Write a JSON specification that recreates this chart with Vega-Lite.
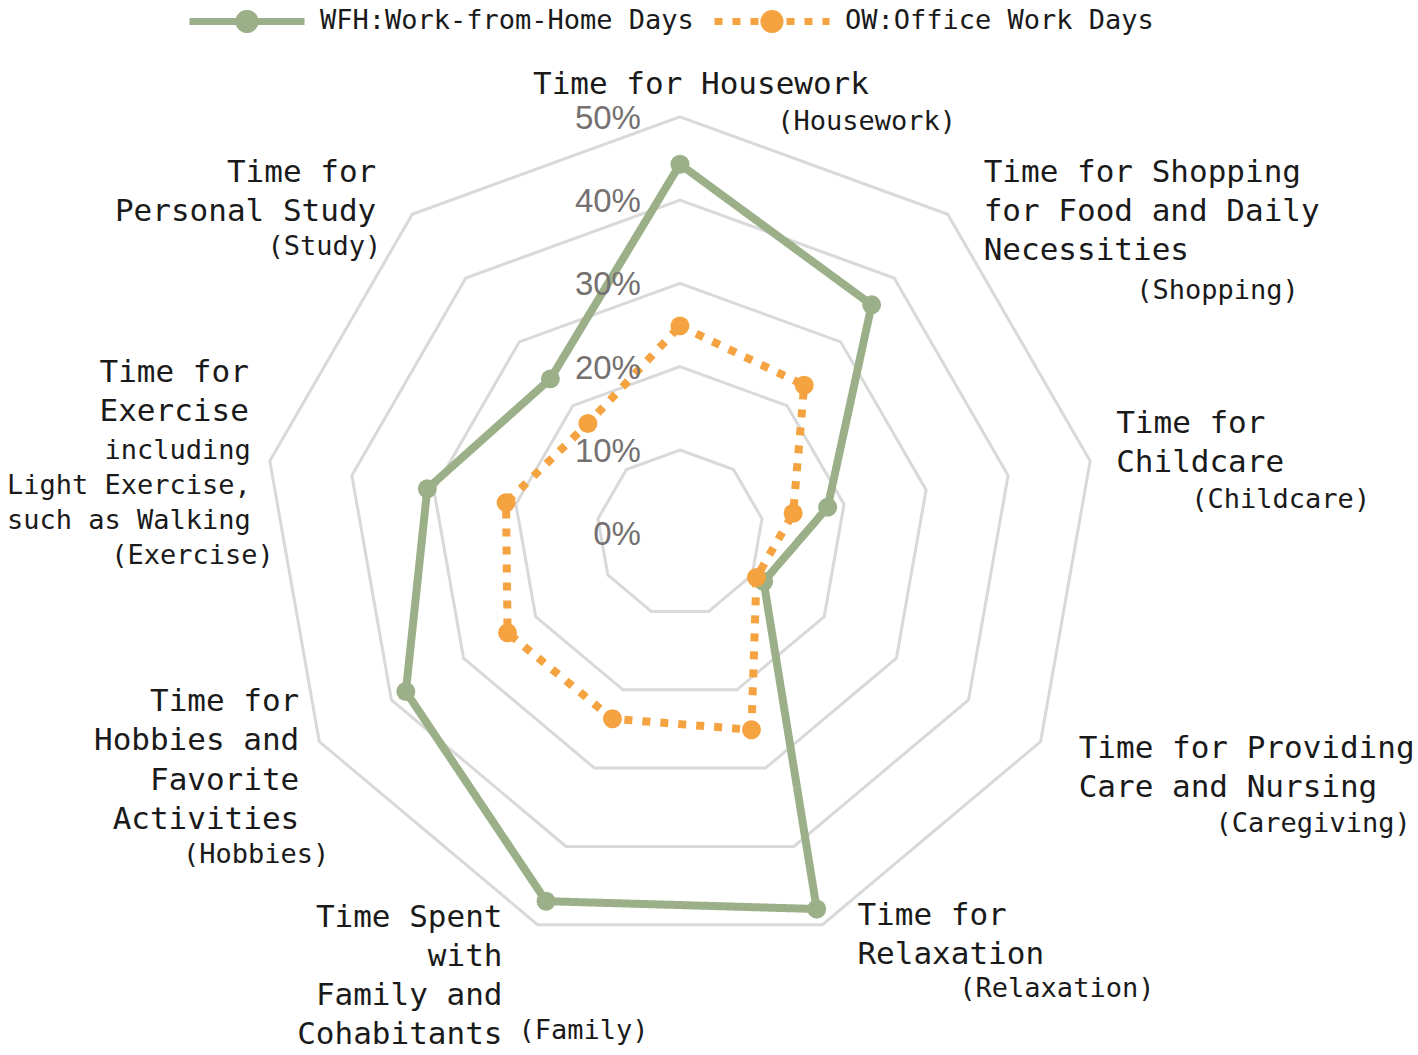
{
  "$schema": "https://vega.github.io/schema/vega-lite/v6.json",
  "width": 1418,
  "height": 1055,
  "autosize": {"type": "none"},
  "padding": 0,
  "background": "white",
  "config": {"view": {"stroke": null}},
  "datasets": {
    "series": [
      {"series": "WFH:Work-from-Home Days", "cat": "Housework", "value": 44.3},
      {"series": "WFH:Work-from-Home Days", "cat": "Shopping", "value": 35.8},
      {"series": "WFH:Work-from-Home Days", "cat": "Childcare", "value": 18.0},
      {"series": "WFH:Work-from-Home Days", "cat": "Caregiving", "value": 11.6},
      {"series": "WFH:Work-from-Home Days", "cat": "Relaxation", "value": 48.0},
      {"series": "WFH:Work-from-Home Days", "cat": "Family", "value": 47.0},
      {"series": "WFH:Work-from-Home Days", "cat": "Hobbies", "value": 38.0},
      {"series": "WFH:Work-from-Home Days", "cat": "Exercise", "value": 30.8},
      {"series": "WFH:Work-from-Home Days", "cat": "Study", "value": 24.2},
      {"series": "OW:Office Work Days", "cat": "Housework", "value": 24.9},
      {"series": "OW:Office Work Days", "cat": "Shopping", "value": 23.2},
      {"series": "OW:Office Work Days", "cat": "Childcare", "value": 13.8},
      {"series": "OW:Office Work Days", "cat": "Caregiving", "value": 10.6},
      {"series": "OW:Office Work Days", "cat": "Relaxation", "value": 25.1},
      {"series": "OW:Office Work Days", "cat": "Family", "value": 23.7},
      {"series": "OW:Office Work Days", "cat": "Hobbies", "value": 23.9},
      {"series": "OW:Office Work Days", "cat": "Exercise", "value": 21.2},
      {"series": "OW:Office Work Days", "cat": "Study", "value": 17.2}
    ],
    "levels": [
      {"level": 0, "label": "0%"},
      {"level": 10, "label": "10%"},
      {"level": 20, "label": "20%"},
      {"level": 30, "label": "30%"},
      {"level": 40, "label": "40%"},
      {"level": 50, "label": "50%"}
    ],
    "labels": [
      {"cat": "Housework", "main": "Time for Housework", "paren": "(Housework)"},
      {"cat": "Shopping", "main": "Time for Shopping\nfor Food and Daily\nNecessities", "paren": "(Shopping)"},
      {"cat": "Childcare", "main": "Time for\nChildcare", "paren": "(Childcare)"},
      {"cat": "Caregiving", "main": "Time for Providing\nCare and Nursing", "paren": "(Caregiving)"},
      {"cat": "Relaxation", "main": "Time for\nRelaxation", "paren": "(Relaxation)"},
      {"cat": "Family", "main": "Time Spent\nwith\nFamily and\nCohabitants", "paren": "(Family)"},
      {"cat": "Hobbies", "main": "Time for\nHobbies and\nFavorite\nActivities", "paren": "(Hobbies)"},
      {"cat": "Exercise", "main": "Time for\nExercise", "sub": "including\nLight Exercise,\nsuch as Walking", "paren": "(Exercise)"},
      {"cat": "Study", "main": "Time for\nPersonal Study", "paren": "(Study)"}
    ]
  },
  "encoding": {
    "x": {"field": "px", "type": "quantitative", "scale": {"domain": [-81.63, 88.6], "nice": false, "zero": false}, "axis": null},
    "y": {"field": "py", "type": "quantitative", "scale": {"domain": [-62.63, 64.02], "nice": false, "zero": false}, "axis": null}
  },
  "layer": [
    {
      "data": {"name": "levels"},
      "transform": [
        {"filter": "datum.level > 0"},
        {"calculate": "[0,1,2,3,4,5,6,7,8]", "as": "k"},
        {"flatten": ["k"]},
        {"calculate": "datum.level * sin(datum.k * 2 * PI / 9)", "as": "px"},
        {"calculate": "datum.level * cos(datum.k * 2 * PI / 9)", "as": "py"}
      ],
      "mark": {"type": "line", "interpolate": "linear-closed", "color": "#d9d9d9", "strokeWidth": 3},
      "encoding": {
        "detail": {"field": "level", "type": "nominal"},
        "order": {"field": "k", "type": "quantitative"}
      }
    },
    {
      "data": {"name": "series"},
      "transform": [
        {"calculate": "indexof(['Housework','Shopping','Childcare','Caregiving','Relaxation','Family','Hobbies','Exercise','Study'], datum.cat)", "as": "idx"},
        {"calculate": "datum.value * sin(datum.idx * 2 * PI / 9)", "as": "px"},
        {"calculate": "datum.value * cos(datum.idx * 2 * PI / 9)", "as": "py"}
      ],
      "layer": [
        {
          "mark": {"type": "line", "interpolate": "linear-closed", "strokeWidth": 8, "strokeCap": "butt", "strokeJoin": "round"},
          "encoding": {
            "color": {
              "field": "series", "type": "nominal",
              "scale": {"domain": ["WFH:Work-from-Home Days", "OW:Office Work Days"], "range": ["#9bb088", "#f4a340"]},
              "legend": {
                "title": null, "orient": "none", "legendX": 232, "legendY": 6, "direction": "horizontal",
                "symbolType": "M -5,0 L 5,0 M 0.7,0 A 0.7,0.7 0 1,1 -0.7,0 A 0.7,0.7 0 1,1 0.7,0 Z M 0.7,0 A 0.7,0.7 0 0,1 0.606,0.35 M 0.606,0.35 A 0.7,0.7 0 0,1 0.35,0.606 M 0.35,0.606 A 0.7,0.7 0 0,1 0,0.7 M 0,0.7 A 0.7,0.7 0 0,1 -0.35,0.606 M -0.35,0.606 A 0.7,0.7 0 0,1 -0.606,0.35 M -0.606,0.35 A 0.7,0.7 0 0,1 -0.7,0 M -0.7,0 A 0.7,0.7 0 0,1 -0.606,-0.35 M -0.606,-0.35 A 0.7,0.7 0 0,1 -0.35,-0.606 M -0.35,-0.606 A 0.7,0.7 0 0,1 0,-0.7 M 0,-0.7 A 0.7,0.7 0 0,1 0.35,-0.606 M 0.35,-0.606 A 0.7,0.7 0 0,1 0.606,-0.35 M 0.606,-0.35 A 0.7,0.7 0 0,1 0.7,0",
                "symbolSize": 529, "symbolStrokeWidth": 7,
                "labelFont": "DejaVu Sans Mono", "labelFontSize": 27, "labelColor": "#1a1a1a",
                "labelOffset": 58, "columnPadding": 6, "padding": 0, "labelLimit": 600,
                "encode": {"symbols": {"update": {"fill": {"scale": "color", "field": "value"}, "opacity": {"value": 1}}}}
              }
            },
            "strokeDash": {
              "field": "series", "type": "nominal",
              "scale": {"domain": ["WFH:Work-from-Home Days", "OW:Office Work Days"], "range": [[1, 0], [8, 10]]},
              "legend": {
                "title": null, "orient": "none", "legendX": 232, "legendY": 6, "direction": "horizontal",
                "symbolType": "M -5,0 L 5,0 M 0.7,0 A 0.7,0.7 0 1,1 -0.7,0 A 0.7,0.7 0 1,1 0.7,0 Z M 0.7,0 A 0.7,0.7 0 0,1 0.606,0.35 M 0.606,0.35 A 0.7,0.7 0 0,1 0.35,0.606 M 0.35,0.606 A 0.7,0.7 0 0,1 0,0.7 M 0,0.7 A 0.7,0.7 0 0,1 -0.35,0.606 M -0.35,0.606 A 0.7,0.7 0 0,1 -0.606,0.35 M -0.606,0.35 A 0.7,0.7 0 0,1 -0.7,0 M -0.7,0 A 0.7,0.7 0 0,1 -0.606,-0.35 M -0.606,-0.35 A 0.7,0.7 0 0,1 -0.35,-0.606 M -0.35,-0.606 A 0.7,0.7 0 0,1 0,-0.7 M 0,-0.7 A 0.7,0.7 0 0,1 0.35,-0.606 M 0.35,-0.606 A 0.7,0.7 0 0,1 0.606,-0.35 M 0.606,-0.35 A 0.7,0.7 0 0,1 0.7,0",
                "symbolSize": 529, "symbolStrokeWidth": 7,
                "labelFont": "DejaVu Sans Mono", "labelFontSize": 27, "labelColor": "#1a1a1a",
                "labelOffset": 58, "columnPadding": 6, "padding": 0, "labelLimit": 600,
                "encode": {"symbols": {"update": {"fill": {"scale": "color", "field": "value"}, "opacity": {"value": 1}}}}
              }
            },
            "order": {"field": "idx", "type": "quantitative"}
          }
        },
        {
          "mark": {"type": "point", "shape": "circle", "filled": true, "size": 360, "opacity": 1},
          "encoding": {
            "color": {"field": "series", "type": "nominal", "legend": null}
          }
        }
      ]
    },
    {
      "data": {"name": "levels"},
      "transform": [
        {"calculate": "0", "as": "px"},
        {"calculate": "datum.level", "as": "py"}
      ],
      "mark": {"type": "text", "align": "right", "baseline": "middle", "dx": -39, "dy": 2, "font": "Liberation Sans", "fontSize": 33, "color": "#767171"},
      "encoding": {"text": {"field": "label", "type": "nominal"}}
    },
    {
      "data": {"name": "labels"},
      "transform": [
        {"calculate": "indexof(['Housework','Shopping','Childcare','Caregiving','Relaxation','Family','Hobbies','Exercise','Study'], datum.cat)", "as": "idx"},
        {"calculate": "50 * sin(datum.idx * 2 * PI / 9)", "as": "px"},
        {"calculate": "50 * cos(datum.idx * 2 * PI / 9)", "as": "py"}
      ],
      "layer": [
        {"transform": [{"filter": "datum.cat === 'Housework'"}], "mark": {"type": "text", "align": "center", "baseline": "alphabetic", "dx": 21, "dy": -23, "font": "DejaVu Sans Mono", "fontSize": 31, "lineHeight": 39, "lineBreak": "\n", "color": "#1a1a1a"}, "encoding": {"text": {"field": "main", "type": "nominal"}}},
        {"transform": [{"filter": "datum.cat === 'Housework'"}], "mark": {"type": "text", "align": "right", "baseline": "alphabetic", "dx": 276, "dy": 13, "font": "DejaVu Sans Mono", "fontSize": 27, "color": "#1a1a1a"}, "encoding": {"text": {"field": "paren", "type": "nominal"}}},

        {"transform": [{"filter": "datum.cat === 'Shopping'"}], "mark": {"type": "text", "align": "left", "baseline": "alphabetic", "dx": 36, "dy": -32, "font": "DejaVu Sans Mono", "fontSize": 31, "lineHeight": 39, "lineBreak": "\n", "color": "#1a1a1a"}, "encoding": {"text": {"field": "main", "type": "nominal"}}},
        {"transform": [{"filter": "datum.cat === 'Shopping'"}], "mark": {"type": "text", "align": "right", "baseline": "alphabetic", "dx": 351, "dy": 85, "font": "DejaVu Sans Mono", "fontSize": 27, "color": "#1a1a1a"}, "encoding": {"text": {"field": "paren", "type": "nominal"}}},

        {"transform": [{"filter": "datum.cat === 'Childcare'"}], "mark": {"type": "text", "align": "left", "baseline": "alphabetic", "dx": 26, "dy": -28, "font": "DejaVu Sans Mono", "fontSize": 31, "lineHeight": 39, "lineBreak": "\n", "color": "#1a1a1a"}, "encoding": {"text": {"field": "main", "type": "nominal"}}},
        {"transform": [{"filter": "datum.cat === 'Childcare'"}], "mark": {"type": "text", "align": "right", "baseline": "alphabetic", "dx": 280, "dy": 47, "font": "DejaVu Sans Mono", "fontSize": 27, "color": "#1a1a1a"}, "encoding": {"text": {"field": "paren", "type": "nominal"}}},

        {"transform": [{"filter": "datum.cat === 'Caregiving'"}], "mark": {"type": "text", "align": "left", "baseline": "alphabetic", "dx": 38, "dy": 16, "font": "DejaVu Sans Mono", "fontSize": 31, "lineHeight": 39, "lineBreak": "\n", "color": "#1a1a1a"}, "encoding": {"text": {"field": "main", "type": "nominal"}}},
        {"transform": [{"filter": "datum.cat === 'Caregiving'"}], "mark": {"type": "text", "align": "right", "baseline": "alphabetic", "dx": 370, "dy": 90, "font": "DejaVu Sans Mono", "fontSize": 27, "color": "#1a1a1a"}, "encoding": {"text": {"field": "paren", "type": "nominal"}}},

        {"transform": [{"filter": "datum.cat === 'Relaxation'"}], "mark": {"type": "text", "align": "left", "baseline": "alphabetic", "dx": 35, "dy": 0, "font": "DejaVu Sans Mono", "fontSize": 31, "lineHeight": 39, "lineBreak": "\n", "color": "#1a1a1a"}, "encoding": {"text": {"field": "main", "type": "nominal"}}},
        {"transform": [{"filter": "datum.cat === 'Relaxation'"}], "mark": {"type": "text", "align": "right", "baseline": "alphabetic", "dx": 332, "dy": 72, "font": "DejaVu Sans Mono", "fontSize": 27, "color": "#1a1a1a"}, "encoding": {"text": {"field": "paren", "type": "nominal"}}},

        {"transform": [{"filter": "datum.cat === 'Family'"}], "mark": {"type": "text", "align": "right", "baseline": "alphabetic", "dx": -35, "dy": 2, "font": "DejaVu Sans Mono", "fontSize": 31, "lineHeight": 39, "lineBreak": "\n", "color": "#1a1a1a"}, "encoding": {"text": {"field": "main", "type": "nominal"}}},
        {"transform": [{"filter": "datum.cat === 'Family'"}], "mark": {"type": "text", "align": "left", "baseline": "alphabetic", "dx": -19, "dy": 114, "font": "DejaVu Sans Mono", "fontSize": 27, "color": "#1a1a1a"}, "encoding": {"text": {"field": "paren", "type": "nominal"}}},

        {"transform": [{"filter": "datum.cat === 'Hobbies'"}], "mark": {"type": "text", "align": "right", "baseline": "alphabetic", "dx": -20, "dy": -31, "font": "DejaVu Sans Mono", "fontSize": 31, "lineHeight": 39.5, "lineBreak": "\n", "color": "#1a1a1a"}, "encoding": {"text": {"field": "main", "type": "nominal"}}},
        {"transform": [{"filter": "datum.cat === 'Hobbies'"}], "mark": {"type": "text", "align": "right", "baseline": "alphabetic", "dx": 10, "dy": 121, "font": "DejaVu Sans Mono", "fontSize": 27, "color": "#1a1a1a"}, "encoding": {"text": {"field": "paren", "type": "nominal"}}},

        {"transform": [{"filter": "datum.cat === 'Exercise'"}], "mark": {"type": "text", "align": "right", "baseline": "alphabetic", "dx": -21, "dy": -79, "font": "DejaVu Sans Mono", "fontSize": 31, "lineHeight": 39, "lineBreak": "\n", "color": "#1a1a1a"}, "encoding": {"text": {"field": "main", "type": "nominal"}}},
        {"transform": [{"filter": "datum.cat === 'Exercise'"}], "mark": {"type": "text", "align": "right", "baseline": "alphabetic", "dx": -19, "dy": -2, "font": "DejaVu Sans Mono", "fontSize": 27, "lineHeight": 35, "lineBreak": "\n", "color": "#1a1a1a"}, "encoding": {"text": {"field": "sub", "type": "nominal"}}},
        {"transform": [{"filter": "datum.cat === 'Exercise'"}], "mark": {"type": "text", "align": "right", "baseline": "alphabetic", "dx": 4, "dy": 103, "font": "DejaVu Sans Mono", "fontSize": 27, "color": "#1a1a1a"}, "encoding": {"text": {"field": "paren", "type": "nominal"}}},

        {"transform": [{"filter": "datum.cat === 'Study'"}], "mark": {"type": "text", "align": "right", "baseline": "alphabetic", "dx": -36, "dy": -32, "font": "DejaVu Sans Mono", "fontSize": 31, "lineHeight": 39, "lineBreak": "\n", "color": "#1a1a1a"}, "encoding": {"text": {"field": "main", "type": "nominal"}}},
        {"transform": [{"filter": "datum.cat === 'Study'"}], "mark": {"type": "text", "align": "right", "baseline": "alphabetic", "dx": -31, "dy": 41, "font": "DejaVu Sans Mono", "fontSize": 27, "color": "#1a1a1a"}, "encoding": {"text": {"field": "paren", "type": "nominal"}}}
      ]
    }
  ]
}
